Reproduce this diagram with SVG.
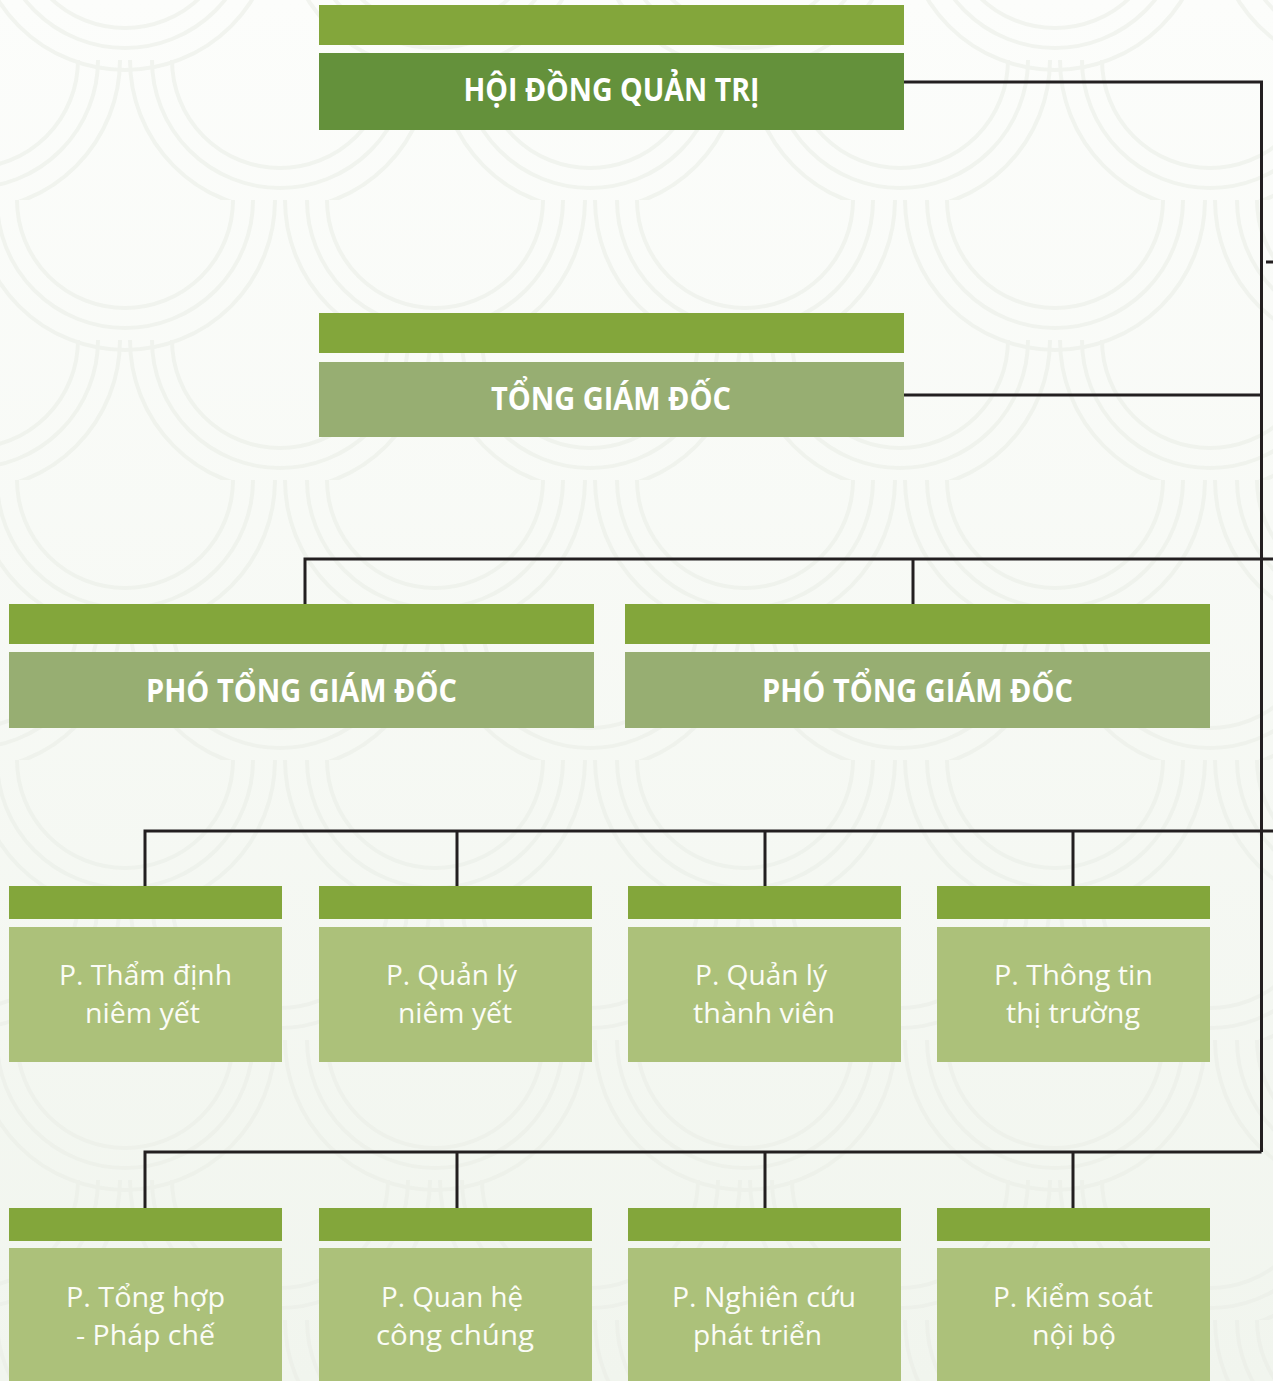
<svg xmlns="http://www.w3.org/2000/svg" width="1273" height="1381" viewBox="0 0 1273 1381">
<defs>
<linearGradient id="bg" x1="0" y1="0" x2="0" y2="1">
<stop offset="0" stop-color="#fcfdfb"/>
<stop offset="1" stop-color="#f1f5ee"/>
</linearGradient>
<pattern id="scales" x="-30" y="-80" width="310" height="280" patternUnits="userSpaceOnUse">
<g fill="none" stroke="#e9ede6" stroke-width="4" opacity="0.55">
<path d="M5 0 A150 150 0 0 0 305 0 M27 0 A128 128 0 0 0 283 0 M47 0 A108 108 0 0 0 263 0"/>
<path d="M-150 140 A150 150 0 0 0 150 140 M-128 140 A128 128 0 0 0 128 140 M-108 140 A108 108 0 0 0 108 140"/>
<path d="M160 140 A150 150 0 0 0 460 140 M182 140 A128 128 0 0 0 438 140 M202 140 A108 108 0 0 0 418 140"/>
<path d="M5 280 A150 150 0 0 0 305 280"/>
</g>
</pattern>
<style>
.bar{fill:#83a63b}
.main1{fill:#64913b}
.main2{fill:#97ae72}
.dept{fill:#acc17a}
.h{font-family:"Open Sans","Liberation Sans",sans-serif;font-weight:700;font-size:33px;fill:#ffffff;text-anchor:middle}
.d{font-family:"Open Sans","Liberation Sans",sans-serif;font-weight:400;font-size:27px;fill:#fbfcf6;text-anchor:middle}
.ln{fill:none;stroke:#231f20;stroke-width:3}
</style>
</defs>
<rect width="1273" height="1381" fill="url(#bg)"/>
<rect width="1273" height="1381" fill="url(#scales)"/>

<g id="connectors">
<path class="ln" d="M904 82 H1261.5 V1152"/>
<path class="ln" d="M904 395 H1261.5"/>
<path class="ln" d="M1266 262 H1273"/>
<path class="ln" d="M305 604 V559 H1273 M913 559 V604"/>
<path class="ln" d="M145 886 V831 H1273 M457 831 V886 M765 831 V886 M1073 831 V886"/>
<path class="ln" d="M145 1208 V1152 H1261.5 M457 1152 V1208 M765 1152 V1208 M1073 1152 V1208"/>
</g>

<g id="hdqt">
<rect class="bar" x="319" y="5" width="585" height="40"/>
<rect class="main1" x="319" y="53" width="585" height="77"/>
<text class="h" x="611.5" y="101" textLength="296" lengthAdjust="spacingAndGlyphs">HỘI ĐỒNG QUẢN TRỊ</text>
</g>
<g id="tgd">
<rect class="bar" x="319" y="313" width="585" height="40"/>
<rect class="main2" x="319" y="362" width="585" height="75"/>
<text class="h" x="611" y="410" textLength="240" lengthAdjust="spacingAndGlyphs">TỔNG GIÁM ĐỐC</text>
</g>
<g id="ptgd1">
<rect class="bar" x="9" y="604" width="585" height="40"/>
<rect class="main2" x="9" y="652" width="585" height="76"/>
<text class="h" x="301.5" y="702" textLength="311" lengthAdjust="spacingAndGlyphs">PHÓ TỔNG GIÁM ĐỐC</text>
</g>
<g id="ptgd2">
<rect class="bar" x="625" y="604" width="585" height="40"/>
<rect class="main2" x="625" y="652" width="585" height="76"/>
<text class="h" x="917.5" y="702" textLength="311" lengthAdjust="spacingAndGlyphs">PHÓ TỔNG GIÁM ĐỐC</text>
</g>

<g id="p-thamdinh">
<rect class="bar" x="9" y="886" width="273" height="33"/>
<rect class="dept" x="9" y="927" width="273" height="135"/>
<text class="d" x="145.5" y="985" textLength="173" lengthAdjust="spacingAndGlyphs">P. Thẩm định</text>
<text class="d" x="142.5" y="1023" textLength="115" lengthAdjust="spacingAndGlyphs">niêm yết</text>
</g>
<g id="p-quanly-niemyet">
<rect class="bar" x="319" y="886" width="273" height="33"/>
<rect class="dept" x="319" y="927" width="273" height="135"/>
<text class="d" x="451.5" y="985" textLength="131" lengthAdjust="spacingAndGlyphs">P. Quản lý</text>
<text class="d" x="455" y="1023" textLength="114" lengthAdjust="spacingAndGlyphs">niêm yết</text>
</g>
<g id="p-quanly-thanhvien">
<rect class="bar" x="628" y="886" width="273" height="33"/>
<rect class="dept" x="628" y="927" width="273" height="135"/>
<text class="d" x="761" y="985" textLength="132" lengthAdjust="spacingAndGlyphs">P. Quản lý</text>
<text class="d" x="764" y="1023" textLength="142" lengthAdjust="spacingAndGlyphs">thành viên</text>
</g>
<g id="p-thongtin">
<rect class="bar" x="937" y="886" width="273" height="33"/>
<rect class="dept" x="937" y="927" width="273" height="135"/>
<text class="d" x="1073.5" y="985" textLength="159" lengthAdjust="spacingAndGlyphs">P. Thông tin</text>
<text class="d" x="1073" y="1023" textLength="134" lengthAdjust="spacingAndGlyphs">thị trường</text>
</g>

<g id="p-tonghop">
<rect class="bar" x="9" y="1208" width="273" height="33"/>
<rect class="dept" x="9" y="1248" width="273" height="133"/>
<text class="d" x="145.5" y="1307" textLength="159" lengthAdjust="spacingAndGlyphs">P. Tổng hợp</text>
<text class="d" x="145.5" y="1345" textLength="139" lengthAdjust="spacingAndGlyphs">- Pháp chế</text>
</g>
<g id="p-quanhe">
<rect class="bar" x="319" y="1208" width="273" height="33"/>
<rect class="dept" x="319" y="1248" width="273" height="133"/>
<text class="d" x="452" y="1307" textLength="142" lengthAdjust="spacingAndGlyphs">P. Quan hệ</text>
<text class="d" x="455" y="1345" textLength="158" lengthAdjust="spacingAndGlyphs">công chúng</text>
</g>
<g id="p-nghiencuu">
<rect class="bar" x="628" y="1208" width="273" height="33"/>
<rect class="dept" x="628" y="1248" width="273" height="133"/>
<text class="d" x="764" y="1307" textLength="184" lengthAdjust="spacingAndGlyphs">P. Nghiên cứu</text>
<text class="d" x="757.5" y="1345" textLength="129" lengthAdjust="spacingAndGlyphs">phát triển</text>
</g>
<g id="p-kiemsoat">
<rect class="bar" x="937" y="1208" width="273" height="33"/>
<rect class="dept" x="937" y="1248" width="273" height="133"/>
<text class="d" x="1073" y="1307" textLength="160" lengthAdjust="spacingAndGlyphs">P. Kiểm soát</text>
<text class="d" x="1074" y="1345" textLength="84" lengthAdjust="spacingAndGlyphs">nội bộ</text>
</g>
</svg>
